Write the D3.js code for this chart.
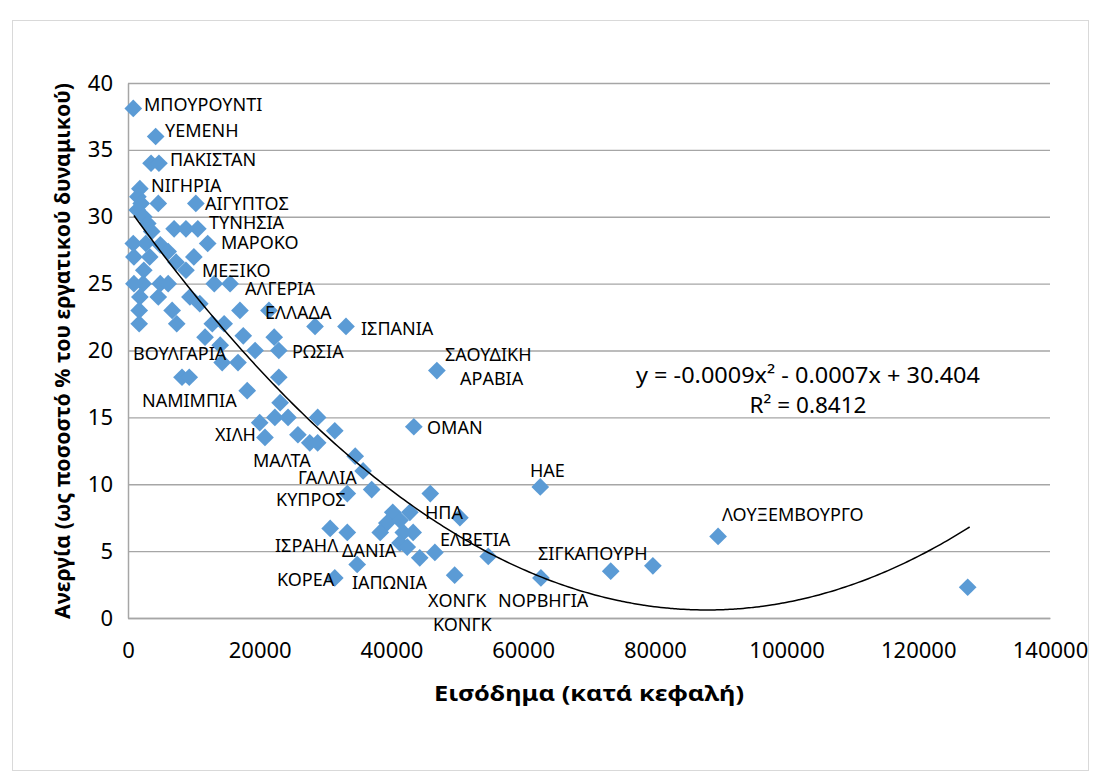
<!DOCTYPE html>
<html>
<head>
<meta charset="utf-8">
<script src="https://cdn.jsdelivr.net/npm/d3@7/dist/d3.min.js"></script>
<style>
  html, body { margin: 0; padding: 0; background: #ffffff; }
  svg { display: block; }
  text { font-family: "Noto Sans", "DejaVu Sans", sans-serif; fill: #000; }
</style>
</head>
<body>
<svg id="chart" width="1098" height="778"></svg>
<script>
// ---------------- DATA ----------------
const income = [
  800, 4200, 3500, 4700, 1800, 1500, 2000, 1400, 4600, 10300,
  2400, 3000, 3600, 7000, 8800, 10600, 12100, 800, 2700, 4900,
  6100, 10000, 900, 3300, 7300, 8800, 2400, 2300, 4900, 6100,
  13100, 15500, 1800, 4600, 9400, 10900, 1700, 6700, 17000, 21400,
  1700, 7400, 12800, 14600, 28400, 33100, 11700, 17500, 22200, 14000,
  19300, 22900, 14300, 16700, 8200, 9300, 22900, 18100, 46900, 23100,
  22300, 24300, 28800, 20000, 20800, 25800, 27600, 28800, 31400, 43400,
  34500, 35700, 33300, 37000, 45900, 62600, 40200, 42800, 39300, 50400,
  38300, 33300, 30700, 41800, 43300, 41300, 42400, 44300, 46600, 54700,
  34800, 31400, 49600, 62700, 73300, 79700, 89600, 127500, 41300, 900
];
const unemployment = [
  38.1, 36.0, 34.0, 34.0, 32.1, 31.5, 31.0, 30.5, 31.0, 31.0,
  30.0, 29.5, 28.9, 29.1, 29.1, 29.1, 28.0, 28.0, 28.0, 27.9,
  27.4, 27.0, 27.0, 27.0, 26.6, 26.0, 26.0, 25.0, 25.0, 25.0,
  25.0, 25.0, 24.0, 24.0, 24.0, 23.5, 23.0, 23.0, 23.0, 23.0,
  22.0, 22.0, 22.0, 22.0, 21.8, 21.8, 21.0, 21.1, 21.0, 20.4,
  20.0, 20.0, 19.1, 19.1, 18.0, 18.0, 18.0, 17.0, 18.5, 16.1,
  15.0, 15.0, 15.0, 14.6, 13.5, 13.7, 13.1, 13.1, 14.0, 14.3,
  12.1, 11.0, 9.3, 9.6, 9.3, 9.8, 7.9, 7.9, 7.1, 7.5,
  6.4, 6.4, 6.7, 6.4, 6.4, 5.6, 5.3, 4.5, 4.9, 4.6,
  4.0, 3.0, 3.2, 3.0, 3.5, 3.9, 6.1, 2.3, 7.3, 25.0
];
const country = [
  "ΜΠΟΥΡΟΥΝΤΙ", "ΥΕΜΕΝΗ", "", "ΠΑΚΙΣΤΑΝ", "ΝΙΓΗΡΙΑ", "", "", "", "", "ΑΙΓΥΠΤΟΣ",
  "", "", "", "", "", "ΤΥΝΗΣΙΑ", "ΜΑΡΟΚΟ", "", "", "",
  "", "", "", "", "", "ΜΕΞΙΚΟ", "", "", "", "",
  "", "ΑΛΓΕΡΙΑ", "", "", "", "", "", "", "", "ΕΛΛΑΔΑ",
  "", "", "", "", "", "ΙΣΠΑΝΙΑ", "", "", "", "",
  "", "ΡΩΣΙΑ", "ΒΟΥΛΓΑΡΙΑ", "", "ΝΑΜΙΜΠΙΑ", "", "", "", "ΣΑΟΥΔΙΚΗ|ΑΡΑΒΙΑ", "",
  "", "", "", "", "ΧΙΛΗ", "", "ΜΑΛΤΑ", "", "", "ΟΜΑΝ",
  "", "ΓΑΛΛΙΑ", "ΚΥΠΡΟΣ", "", "", "ΗΑΕ", "", "ΗΠΑ", "", "ΕΛΒΕΤΙΑ",
  "", "ΔΑΝΙΑ", "ΙΣΡΑΗΛ", "", "", "", "", "", "", "",
  "ΙΑΠΩΝΙΑ", "ΚΟΡΕΑ", "ΧΟΝΓΚ|ΚΟΝΓΚ", "ΝΟΡΒΗΓΙΑ", "", "ΣΙΓΚΑΠΟΥΡΗ", "ΛΟΥΞΕΜΒΟΥΡΓΟ", "", "", ""
];
const xTicks = [0, 20000, 40000, 60000, 80000, 100000, 120000, 140000];
const yTicks = [0, 5, 10, 15, 20, 25, 30, 35, 40];
// polynomial trend (x in thousands): y = a*x^2 + b*x + c, drawn over this income range
const trendCoef = [0.003897, -0.6851, 30.71];
const trendRange = [900, 127800];
const equationText = ["y = -0.0009x² - 0.0007x + 30.404", "R² = 0.8412"];
const xTitle = "Εισόδημα (κατά κεφαλή)";
const yTitle = "Ανεργία (ως ποσοστό % του εργατικού δυναμικού)";

// ---------------- LAYOUT ----------------
const plot = { left: 128, right: 1050, top: 83, bottom: 618 };
// label placement (absolute left x, centre y of the first line, left x of the second line)
const labelPos = {
  "ΜΠΟΥΡΟΥΝΤΙ": [144, 104], "ΥΕΜΕΝΗ": [165, 130], "ΠΑΚΙΣΤΑΝ": [170, 159],
  "ΝΙΓΗΡΙΑ": [151, 185], "ΑΙΓΥΠΤΟΣ": [205, 203], "ΤΥΝΗΣΙΑ": [209, 222],
  "ΜΑΡΟΚΟ": [221, 242], "ΜΕΞΙΚΟ": [202, 270], "ΑΛΓΕΡΙΑ": [245, 288],
  "ΕΛΛΑΔΑ": [265, 312], "ΙΣΠΑΝΙΑ": [361, 328], "ΒΟΥΛΓΑΡΙΑ": [133, 353],
  "ΡΩΣΙΑ": [292, 351], "ΣΑΟΥΔΙΚΗ|ΑΡΑΒΙΑ": [445, 354, 460], "ΝΑΜΙΜΠΙΑ": [142, 400],
  "ΧΙΛΗ": [215, 434], "ΜΑΛΤΑ": [253, 460], "ΟΜΑΝ": [427, 427],
  "ΓΑΛΛΙΑ": [298, 477], "ΚΥΠΡΟΣ": [276, 499], "ΗΑΕ": [530, 470],
  "ΗΠΑ": [425, 512], "ΕΛΒΕΤΙΑ": [440, 539], "ΔΑΝΙΑ": [342, 550],
  "ΙΣΡΑΗΛ": [275, 545], "ΙΑΠΩΝΙΑ": [352, 582], "ΚΟΡΕΑ": [277, 579],
  "ΧΟΝΓΚ|ΚΟΝΓΚ": [428, 600, 433], "ΝΟΡΒΗΓΙΑ": [498, 600], "ΣΙΓΚΑΠΟΥΡΗ": [538, 553],
  "ΛΟΥΞΕΜΒΟΥΡΓΟ": [722, 514]
};

const svg = d3.select("#chart");

// outer chart border
svg.append("rect").attr("x", 12.5).attr("y", 20.5).attr("width", 1076).attr("height", 750)
  .attr("fill", "#fff").attr("stroke", "#d9d9d9").attr("stroke-width", 1);

const x = d3.scaleLinear().domain([0, 140000]).range([plot.left, plot.right]);
const y = d3.scaleLinear().domain([0, 40]).range([plot.bottom, plot.top]);

// gridlines
svg.append("g").attr("transform", `translate(${plot.left},0)`)
  .call(d3.axisLeft(y).tickValues(yTicks).tickSize(-(plot.right - plot.left)).tickFormat(""))
  .call(g => g.select(".domain").remove())
  .call(g => g.selectAll("line").attr("stroke", "#a6a6a6").attr("stroke-width", 1.3));

// y axis
const yAxis = svg.append("g").attr("transform", `translate(${plot.left},0)`)
  .call(d3.axisLeft(y).tickValues(yTicks).tickSize(0).tickPadding(15).tickFormat(d3.format("d")));
yAxis.select(".domain").attr("stroke", "#a6a6a6").attr("stroke-width", 1.5);
yAxis.selectAll("text").attr("font-size", 22).attr("font-family", "Noto Sans").attr("fill", "#000");

// x axis
const xAxis = svg.append("g").attr("transform", `translate(0,${plot.bottom})`)
  .call(d3.axisBottom(x).tickValues(xTicks).tickSize(0).tickPadding(24).tickFormat(d3.format("d")));
xAxis.select(".domain").attr("stroke", "#a6a6a6").attr("stroke-width", 1.5);
xAxis.selectAll("text").attr("font-size", 22).attr("font-family", "Noto Sans").attr("fill", "#000");

// points
const pts = income.map((v, i) => ({ x: v, y: unemployment[i], name: country[i] }));
const diamond = d3.symbol().type(d3.symbolDiamond2).size(200);
svg.append("g").selectAll("path").data(pts).join("path")
  .attr("d", diamond)
  .attr("transform", d => `translate(${x(d.x)},${y(d.y)})`)
  .attr("fill", "#5b9bd5");

// trend line
const trendPts = d3.range(trendRange[0], trendRange[1] + 1, 500).concat([trendRange[1]]).map(v => {
  const k = v / 1000;
  return [v, trendCoef[0] * k * k + trendCoef[1] * k + trendCoef[2]];
});
svg.append("path").datum(trendPts)
  .attr("d", d3.line().x(d => x(d[0])).y(d => y(d[1])).curve(d3.curveMonotoneX))
  .attr("fill", "none").attr("stroke", "#000").attr("stroke-width", 1.5);

// data labels
const lab = svg.append("g");
pts.filter(d => d.name).forEach(d => {
  const p = labelPos[d.name];
  const lines = d.name.split("|");
  const t = lab.append("text")
    .attr("x", p[0]).attr("y", p[1])
    .attr("font-size", 18).attr("dominant-baseline", "central");
  lines.forEach((ln, j) => {
    t.append("tspan").attr("x", j === 0 ? p[0] : p[2])
      .attr("dy", j === 0 ? 0 : 24).text(ln);
  });
});

// equation
svg.append("text").attr("x", 808).attr("y", 383).attr("text-anchor", "middle").attr("font-size", 22.5)
  .attr("textLength", 344).attr("lengthAdjust", "spacingAndGlyphs").text(equationText[0]);
svg.append("text").attr("x", 808).attr("y", 413).attr("text-anchor", "middle").attr("font-size", 22.5)
  .text(equationText[1]);

// axis titles
svg.append("text").attr("x", 589).attr("y", 701).attr("text-anchor", "middle")
  .attr("font-size", 22).attr("font-weight", "bold")
  .attr("textLength", 310).attr("lengthAdjust", "spacingAndGlyphs").text(xTitle);
svg.append("text").attr("transform", "translate(70,351) rotate(-90)").attr("text-anchor", "middle")
  .attr("font-size", 22).attr("font-weight", "bold")
  .attr("textLength", 536).attr("lengthAdjust", "spacingAndGlyphs").text(yTitle);
</script>
</body>
</html>
